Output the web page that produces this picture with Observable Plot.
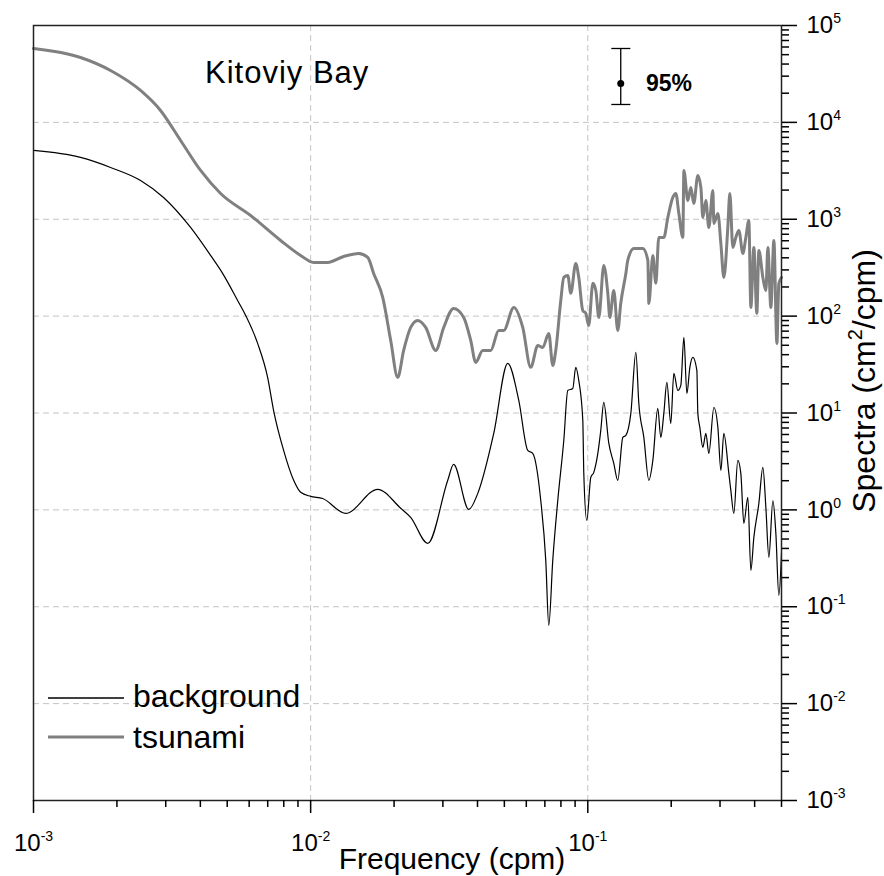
<!DOCTYPE html>
<html><head><meta charset="utf-8">
<script src="https://cdn.jsdelivr.net/npm/d3@7"></script>
<script src="https://cdn.jsdelivr.net/npm/@observablehq/plot@0.6"></script>
<style>body{margin:0;background:#fff} svg{display:block}</style>
</head><body><div id="chart"></div>
<script>
// ---- data ----
const bgFreq = [0.001, 0.001478, 0.001897, 0.002434, 0.002946, 0.003688, 0.004355, 0.004812, 0.005451, 0.005824,
  0.006438, 0.006995, 0.007351, 0.007989, 0.008683, 0.009203, 0.01, 0.01105, 0.01338, 0.01746,
  0.02113, 0.02296, 0.02645, 0.03124, 0.0328, 0.03719, 0.04009, 0.04578, 0.05142, 0.05636,
  0.06073, 0.0633, 0.06766, 0.07053, 0.07232, 0.07475, 0.07793, 0.08192, 0.08469, 0.08826,
  0.09049, 0.09278, 0.09594, 0.09674, 0.09918, 0.1025, 0.1051, 0.1087, 0.1114, 0.1142,
  0.1191, 0.1241, 0.1283, 0.1338, 0.1372, 0.143, 0.1491, 0.1528, 0.1593, 0.1661,
  0.1717, 0.1789, 0.1834, 0.1881, 0.1929, 0.1993, 0.2044, 0.2113, 0.2166, 0.2222,
  0.2278, 0.2335, 0.2394, 0.2475, 0.2495, 0.2537, 0.2601, 0.2667, 0.2734, 0.2851,
  0.2947, 0.3021, 0.3097, 0.3228, 0.3282, 0.3365, 0.3478, 0.3566, 0.3657, 0.378,
  0.3876, 0.3974, 0.4143, 0.4283, 0.4391, 0.4502, 0.4655, 0.4771, 0.4891, 0.5];
const bgSpec = [5130, 4345, 3424, 2514, 1679, 823, 423, 276, 145, 102,
  52.3, 23.3, 10.6, 4.11, 2.02, 1.52, 1.38, 1.31, 0.92, 1.63,
  1.04, 0.837, 0.451, 2.02, 2.95, 1.01, 1.48, 6.16, 32.5, 13.5,
  4.11, 3.83, 1.25, 0.301, 0.0643, 0.301, 1.25, 5.21, 17.1, 17.9,
  29.6, 21.7, 8.39, 2.38, 0.779, 2.16, 2.44, 3.83, 6.61, 12.9,
  4.86, 3.02, 2.02, 5.6, 5.87, 9.91, 42.2, 12.6, 5.6, 2.02,
  3.24, 11.2, 5.6, 9.91, 20.7, 7.81, 25.6, 17.1, 19.3, 60.3,
  15.9, 29.6, 37.5, 27.5, 9.91, 7.1, 4.42, 6.16, 3.83, 11.4,
  7.1, 2.56, 6.16, 2.38, 1.59, 0.92, 3.24, 2.38, 0.726, 1.35,
  0.237, 0.52, 1.17, 2.75, 1.06, 0.324, 1.25, 0.572, 0.131, 0.356];

const tsFreq = [0.001, 0.001478, 0.001897, 0.002434, 0.002873, 0.003395, 0.004008, 0.004733, 0.006073, 0.007794,
  0.009203, 0.01025, 0.01152, 0.01316, 0.01491, 0.01607, 0.01688, 0.0182, 0.01945, 0.02061,
  0.02166, 0.02296, 0.02434, 0.02601, 0.02827, 0.03021, 0.0328, 0.03567, 0.03781, 0.03942,
  0.04178, 0.04465, 0.04771, 0.04975, 0.05408, 0.05825, 0.06226, 0.06601, 0.0688, 0.07232,
  0.07475, 0.07664, 0.0799, 0.08192, 0.08469, 0.08683, 0.09049, 0.09278, 0.09594, 0.09836,
  0.1008, 0.1043, 0.1069, 0.1096, 0.1142, 0.1181, 0.1201, 0.1241, 0.1283, 0.1315,
  0.1372, 0.1394, 0.1466, 0.158, 0.1647, 0.1661, 0.1717, 0.176, 0.1804, 0.1881,
  0.1945, 0.2027, 0.2078, 0.2131, 0.2203, 0.2222, 0.2296, 0.2354, 0.2413, 0.2495,
  0.2559, 0.2601, 0.2667, 0.2734, 0.2827, 0.2851, 0.2947, 0.3021, 0.3097, 0.3201,
  0.3255, 0.3337, 0.3421, 0.3508, 0.3627, 0.3718, 0.3812, 0.3876, 0.3974, 0.4074,
  0.4143, 0.4283, 0.4391, 0.4465, 0.4577, 0.4693, 0.4812, 0.4891, 0.5];
const tsSpec = [57900, 46760, 34320, 21340, 13270, 6505, 3189, 1846, 1094, 604,
  423, 358, 358, 413, 444, 404, 276, 156, 56.1, 23.3,
  44.3, 76.4, 90.3, 76.4, 44.3, 76.4, 120, 97, 56.1, 33.3,
  44.3, 44.3, 71.2, 71.2, 123, 76.4, 29.6, 49.8, 47.5, 66.3,
  31, 44.3, 145, 251, 263, 172, 350, 251, 114, 107,
  80.2, 218, 184, 97, 334, 172, 97, 184, 71.2, 135,
  276, 376, 500, 500, 376, 135, 423, 218, 649, 649,
  1044, 1679, 1846, 1148, 649, 3189, 1563, 2129, 1455, 2831,
  2129, 1044, 1563, 823, 1983, 905, 1148, 563, 251, 823,
  1846, 512, 649, 766, 444, 649, 972, 123, 512, 107,
  476, 251, 184, 512, 123, 604, 52.3, 218, 251];

// 95% confidence bar
const errFreq = [0.1315];
const errMid = [25200];
const errLow = [15300];
const errHigh = [57900];
const errCapLeft = [0.1221];
const errCapRight = [0.143];

// axes
const xDomain = [0.001, 0.5];
const yDomain = [1e-3, 1e5];
const xMajor = [0.001, 0.01, 0.1];
const xMinor = [0.002, 0.003, 0.004, 0.005, 0.006, 0.007, 0.008, 0.009,
  0.02, 0.03, 0.04, 0.05, 0.06, 0.07, 0.08, 0.09, 0.2, 0.3, 0.4, 0.5];
const yMajor = [1e-3, 1e-2, 1e-1, 1, 10, 100, 1e3, 1e4, 1e5];
const yMinor = [];
for (const k of [-3, -2, -1, 0, 1, 2, 3, 4]) for (const m of [2,3,4,5,6,7,8,9]) yMinor.push(+(m * Math.pow(10, k)).toPrecision(3));
const xGrid = [0.01, 0.1];
const yGrid = [1e-2, 1e-1, 1, 10, 100, 1e3, 1e4];

const seriesNames = ["background", "tsunami"];
const seriesColors = ["#000000", "#808080"];
const titleText = "Kitoviy Bay";
const confText = "95%";

// ---- build ----
const background = bgFreq.map((f, i) => ({f, s: bgSpec[i]}));
const tsunami = tsFreq.map((f, i) => ({f, s: tsSpec[i]}));
const err = errFreq.map((f, i) => ({f, mid: errMid[i], lo: errLow[i], hi: errHigh[i], x1: errCapLeft[i], x2: errCapRight[i]}));

const FONT = "'Liberation Sans', Arial, Helvetica, sans-serif";
const pow = d => `10^${Math.round(Math.log10(d))}`;
const gridStyle = {stroke: "#c4c4c4", strokeWidth: 1, strokeDasharray: "6,4"};

const plot = Plot.plot({
  width: 884, height: 876,
  marginLeft: 33, marginRight: 103, marginTop: 25, marginBottom: 76,
  style: {fontFamily: FONT, fontSize: "24px", background: "#fff", color: "#000", overflow: "visible"},
  x: {type: "log", domain: xDomain},
  y: {type: "log", domain: yDomain},
  marks: [
    Plot.ruleX(xGrid, gridStyle),
    Plot.ruleY(yGrid, gridStyle),
    Plot.line(tsunami, {x: "f", y: "s", stroke: seriesColors[1], strokeWidth: 3, curve: "monotone-x"}),
    Plot.line(background, {x: "f", y: "s", stroke: seriesColors[0], strokeWidth: 1.2, curve: "monotone-x"}),
    Plot.ruleX(err, {x: "f", y1: "lo", y2: "hi", stroke: "#000", strokeWidth: 1.3}),
    Plot.ruleY(err, {y: "hi", x1: "x1", x2: "x2", stroke: "#000", strokeWidth: 1.3}),
    Plot.ruleY(err, {y: "lo", x1: "x1", x2: "x2", stroke: "#000", strokeWidth: 1.3}),
    Plot.dot(err, {x: "f", y: "mid", r: 3.5, fill: "#000", stroke: null}),
    Plot.frame({stroke: "#222", strokeWidth: 1.5}),
    Plot.axisX({ticks: xMajor, tickSize: 13, tickPadding: 20, tickFormat: pow, label: null, strokeWidth: 1.5}),
    Plot.axisX({ticks: xMinor, tickSize: 7, tickFormat: () => "", label: null, strokeWidth: 1.5}),
    Plot.axisY({anchor: "right", ticks: yMajor, tickSize: 15, tickPadding: 10, tickFormat: pow, label: null, strokeWidth: 1.5}),
    Plot.axisY({anchor: "right", ticks: yMinor, tickSize: 7, tickFormat: () => "", label: null, strokeWidth: 1.5})
  ]
});

const svg = d3.select(plot);
// superscript exponents in tick labels
svg.selectAll("text").each(function () {
  const m = /^10\^(-?\d+)$/.exec(this.textContent);
  if (!m) return;
  const el = d3.select(this);
  el.text(null);
  el.append("tspan").text("10");
  el.append("tspan").attr("dy", -10).attr("font-size", "14px").text(m[1]);
});

const ann = svg.append("g").attr("font-family", FONT).attr("fill", "#000").attr("text-anchor", "start");
// title
ann.append("text").attr("x", 205).attr("y", 83).attr("font-size", 31).attr("letter-spacing", 1).text(titleText);
// 95%
ann.append("text").attr("x", 646).attr("y", 91).attr("font-size", 23).attr("font-weight", "bold").text(confText);
// legend
const leg = [[698, 707, 1.3], [737, 748, 3]];
seriesNames.forEach((name, i) => {
  ann.append("line").attr("x1", 48).attr("x2", 124).attr("y1", leg[i][0]).attr("y2", leg[i][0])
    .attr("stroke", seriesColors[i]).attr("stroke-width", leg[i][2]);
  ann.append("text").attr("x", 133).attr("y", leg[i][1]).attr("font-size", 32).text(name);
});
// axis labels
ann.append("text").attr("x", 452).attr("y", 869).attr("text-anchor", "middle").attr("font-size", 30).text("Frequency (cpm)");
const yl = ann.append("text").attr("transform", "translate(875,381) rotate(-90)").attr("text-anchor", "middle").attr("font-size", 32);
yl.append("tspan").text("Spectra (cm");
yl.append("tspan").attr("dy", -13).attr("font-size", 20).text("2");
yl.append("tspan").attr("dy", 13).text("/cpm)");

document.getElementById("chart").appendChild(plot);
</script>
</body></html>
